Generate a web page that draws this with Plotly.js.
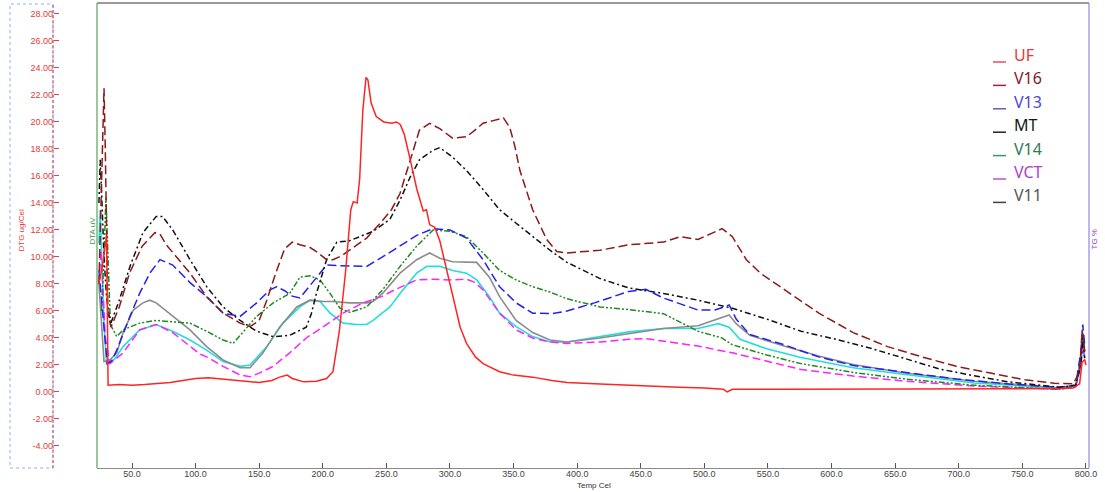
<!DOCTYPE html>
<html>
<head>
<meta charset="utf-8">
<script src="https://cdn.plot.ly/plotly-3.0.1.min.js"></script>
<style>html,body{margin:0;padding:0;background:#fff;}#chart{width:1105px;height:492px;}</style>
</head>
<body>
<div id="chart"></div>
<script>
// ---- data (temperature in Cel, DTG in ug/Cel) ----
const seriesNames = ["UF", "V16", "V13", "MT", "V14", "VCT", "V11"];

const ufT = [24,27,30,31.2,40,50,60,70,80,90,100,110,120,130,140,150,160,166,172,176,185,195,203,208,213,218,222,224,227,229,231.5,234,235.5,238,242,248,254,258,261,264,268.5,274,279,281.5,284,288,292,300,308,313,320,326,339,350,365,380,392,418,450,480,500,515,518,522,560,600,650,700,750,780,790,795,797,799,800];
const ufV = [8.0,9.5,11.6,0.5,0.55,0.5,0.55,0.6,0.7,0.85,1.0,1.05,0.95,0.85,0.75,0.7,0.85,1.1,1.25,1.0,0.75,0.8,1.0,1.5,4.5,9.0,13.5,14.1,14.0,15.8,20.9,23.3,23.1,21.4,20.4,20.0,19.9,20.0,19.8,19.1,17.3,15.0,13.4,13.5,12.4,12.2,11.2,8.1,4.8,3.6,2.6,2.1,1.5,1.25,1.1,0.85,0.7,0.6,0.45,0.35,0.3,0.2,0.0,0.2,0.2,0.2,0.2,0.2,0.2,0.25,0.3,0.6,2.2,2.4,2.0];

const v16T = [24,26,28,29,30,31,33.5,40,48,58,68,72,77,86,95.6,108.7,121.6,135,142.8,150,156,163,170,176,182,190,195,203,208,215,221,234.5,247,254,260.7,268.6,276,284,292,302,313,321,326,334,342,347,351,355,365,376,384,392,418,440,468,481,495,507,514,522,533,544,563,590,617,644,671,698,725,752,775,790,795,797,799];
const v16V = [8,15,22.5,18,10,6,4.8,6.3,8.8,10.8,11.8,11.7,10.9,9.9,8.8,7.06,5.84,5.1,4.84,5.3,6.8,8.8,10.6,11.1,10.9,10.7,10.4,9.8,9.8,10.1,10.5,11.4,12.7,13.5,14.7,17.2,19.4,19.9,19.5,18.8,18.9,19.5,19.9,20.1,20.3,19.6,18.2,16.4,13.5,11.3,10.4,10.3,10.5,10.9,11.1,11.5,11.3,11.8,12.1,11.5,9.8,8.8,7.6,5.84,4.4,3.36,2.6,1.9,1.4,0.9,0.65,0.6,1.5,4.6,3.0];

const v13T = [24,26,28,30.5,34,38,48.4,56,64,72,82,95.6,108.7,121.6,135,148,158.5,164,170,176,182,195,203,215,226.6,234.5,247,260.7,273.8,286.7,300,313,326,339,352,365,380,392,413.6,440.7,454,467.8,495,508.4,519.5,525,535.7,562.6,589.8,617,658,698,739,779,792,796,797.5,799];
const v13V = [9.0,7.0,4.5,2.1,2.3,3.1,5.6,7.3,8.8,9.8,9.4,8.1,7.06,5.84,5.6,6.6,7.56,7.8,7.5,7.1,6.96,8.5,9.4,9.35,9.3,9.3,10.0,10.8,11.6,12.1,12.0,11.4,9.8,7.8,6.6,5.84,5.8,6.0,6.6,7.45,7.6,6.96,6.07,6.07,6.44,5.4,4.26,3.5,2.6,1.96,1.48,0.96,0.6,0.35,0.5,3.0,5.0,3.5];

const mtT = [24,25,26,28,30,33,40,48.4,58.6,69,74,82,95.6,108.7,121.6,135,148,161,174,187,191,195,203,211,221,226.6,239.5,252.8,260.7,268.6,276,286.7,292,302,313,326,339,352,365,378.6,392,404.6,418,440.7,467.8,495,522,549,576,603.5,630,658,685,712,739,779,792,796,797.5,799];
const mtV = [14,17.2,15,10,7,5.0,6.8,9.3,11.8,13.0,13.0,12.0,9.8,7.8,6.3,5.3,4.5,4.1,4.2,4.8,5.8,7.3,9.8,11.1,11.2,11.4,11.9,12.8,14.2,15.9,17.2,17.9,18.1,17.4,16.4,15.0,13.5,12.5,11.5,10.5,9.6,9.0,8.4,7.7,7.3,6.8,6.2,5.4,4.5,3.9,3.26,2.47,1.7,1.2,0.75,0.35,0.5,2.0,4.0,2.5];

const v14T = [26,28,29.5,31,33,38,43,56,69,82,95.6,108.7,121.6,129.5,137,148,161,174,182,190,197.8,205.7,213.5,221,234.5,247,260.7,273.8,286.7,300,313,326,339,352,365,378.6,392,418,440.7,467.8,495,513.8,522,549,576,617,658,712,779,792,796,797.5,799];
const v14V = [6,10,14.4,10,5,4.1,4.6,5.1,5.3,5.2,5.1,4.5,3.85,3.6,4.4,5.6,6.6,7.3,8.5,8.6,8.3,7.3,6.2,5.9,6.3,7.56,9.3,10.8,12.0,11.9,11.5,10.3,9.0,8.3,7.8,7.4,6.9,6.3,6.1,5.8,4.5,4.0,3.5,2.74,2.1,1.45,0.96,0.5,0.2,0.4,2.5,4.2,3.0];

const vctT = [24,25.5,27,29,32.7,43,56,69,82,95.6,103.5,108.7,121.6,135,142.8,150,161,174,187,200,208,216,231.6,247,255,262,273.8,286.7,300,313,320,326,339,352,365,378.6,392,418,440.7,454,495,522,549,576,617,658,712,779,792,796,797.5,799];
const vctV = [8,10.5,8,4,2.1,2.9,4.6,5.0,4.4,3.36,2.8,2.6,1.9,1.26,1.13,1.4,1.9,2.9,4.0,4.8,5.3,5.84,6.6,7.1,7.5,7.8,8.3,8.35,8.3,8.35,8.1,7.56,5.84,4.6,4.0,3.7,3.6,3.7,3.9,3.95,3.4,2.9,2.3,1.67,1.18,0.8,0.44,0.2,0.4,2.0,3.5,2.5];

const v11T = [24,26,28,33,38,43,51,58.6,64,69,82,95.6,108.7,121.6,135,142.8,153,166,179.5,190,200,208,221,234.5,239.5,247,260.7,273.8,284,292,302,313,321,331,339,352,365,378.6,392,418,440.7,467.8,495,513.8,519.5,525,535.7,562.6,589.8,617,658,712,779,792,796,797.5,799];
const v11V = [8,5,2.25,2.4,2.9,4.4,6.07,6.6,6.8,6.6,5.6,4.6,3.36,2.37,1.8,1.8,2.9,4.8,6.3,6.8,6.7,6.7,6.6,6.6,6.7,7.3,8.8,9.8,10.3,9.9,9.65,9.65,9.6,8.5,7.06,5.3,4.4,3.85,3.7,4.0,4.3,4.7,4.9,5.55,5.7,5.06,4.2,3.4,2.67,2.04,1.4,0.8,0.3,0.5,2.5,4.3,3.0];

// unlabeled cyan curve
const cyanT = [24,25,26.5,28,30,36,43,56,69,82,95.6,108.7,121.6,135,142.8,156,168.7,182,190,197.8,205.7,216,226.6,234.5,239.5,247,252.8,260.7,273.8,281.7,292,302,313,321,331,339,352,365,378.6,392,418,440.7,467.8,495,511,519.5,528,549,576,617,658,712,779,792,796,797.5,799];
const cyanV = [11,13.5,9,5,2.1,2.4,3.36,4.6,5.0,4.5,3.85,3.1,2.25,1.9,2.0,3.36,5.1,6.3,6.8,6.7,5.84,5.1,5.0,5.0,5.3,5.84,6.3,7.3,8.8,9.3,9.3,9.0,8.8,8.3,7.06,5.84,4.84,4.1,3.7,3.7,4.1,4.45,4.7,4.7,5.06,4.8,3.9,3.2,2.55,1.8,1.3,0.67,0.3,0.5,2.0,3.5,2.5];

const xTickVals = [50,100,150,200,250,300,350,400,450,500,550,600,650,700,750,800];
const yTickVals = [-4,-2,0,2,4,6,8,10,12,14,16,18,20,22,24,26,28];
const yTickText = ["-4.00","-2.00","0.00","2.00","4.00","6.00","8.00","10.00","12.00","14.00","16.00","18.00","20.00","22.00","24.00","26.00","28.00"];

// ---- styles ----
const W = 1105, H = 492;
const px = v => v / W, py = v => 1 - v / H;

function tr(x, y, color, dash, width) {
  return {x: x, y: y, type: 'scatter', mode: 'lines', showlegend: false, hoverinfo: 'skip',
          line: {color: color, dash: dash, width: width || 1.5}};
}

const traces = [
  tr(cyanT, cyanV, '#22dede', 'solid', 1.6),
  tr(v11T, v11V, '#8c8c8c', 'solid', 1.6),
  tr(vctT, vctV, '#ff22ff', '8px,4px', 1.5),
  tr(v14T, v14V, '#1f8a1f', '6px,2px,2px,2px,2px,2px', 1.5),
  tr(v13T, v13V, '#2222ee', '9px,4px', 1.5),
  tr(mtT, mtV, '#111111', '6px,3px,2px,3px', 1.5),
  tr(v16T, v16V, '#8b1a1a', '9px,4px', 1.5),
  tr(ufT, ufV, '#ff2424', 'solid', 1.5)
];

const legendText = ['#e83a3a', '#8a1a2a', '#4a4ad0', '#151515', '#2a7a55', '#b040d0', '#555555'];
const legendLine = ['#e05060', '#a02040', '#6060c0', '#222222', '#409070', '#c050c0', '#404040'];

const annotations = [];
const shapes = [];
seriesNames.forEach((n, i) => {
  const yc = 55 + i * 23.4;
  annotations.push({xref: 'paper', yref: 'paper', x: px(1012), y: py(yc), xanchor: 'left', yanchor: 'middle',
    text: n, showarrow: false, font: {family: 'Noto Sans, Open Sans, sans-serif', size: 16, color: legendText[i]}});
  shapes.push({type: 'line', xref: 'paper', yref: 'paper', x0: px(993), x1: px(1006), y0: py(yc + 7), y1: py(yc + 7),
    line: {color: legendLine[i], width: 1.5}});
});

annotations.push({xref: 'paper', yref: 'paper', x: px(14), y: py(231), text: 'DTG ug/Cel', textangle: -90,
  showarrow: false, font: {family: 'Liberation Sans, Arial, sans-serif', size: 8, color: '#e03c3c'}});
annotations.push({xref: 'paper', yref: 'paper', x: px(85), y: py(231), text: 'DTA uV', textangle: -90,
  showarrow: false, font: {family: 'Liberation Sans, Arial, sans-serif', size: 8, color: '#3a9a3a'}});
annotations.push({xref: 'paper', yref: 'paper', x: px(1100), y: py(240), text: 'TG %', textangle: -90,
  showarrow: false, font: {family: 'Liberation Sans, Arial, sans-serif', size: 8, color: '#9040d0'}});
annotations.push({xref: 'paper', yref: 'paper', x: px(594), y: py(492), xanchor: 'center', yanchor: 'bottom',
  text: 'Temp Cel', showarrow: false, font: {family: 'Liberation Sans, Arial, sans-serif', size: 8, color: '#333333'}});

// frame / axes decorations
shapes.push({type: 'rect', xref: 'paper', yref: 'paper', x0: px(10), x1: px(53), y0: py(468), y1: py(4),
  line: {color: '#8ab4e8', width: 1, dash: 'dot'}});
shapes.push({type: 'line', xref: 'paper', yref: 'paper', x0: px(53), x1: px(53), y0: py(468), y1: py(4),
  line: {color: '#d04060', width: 1, dash: '3px,2px'}});
shapes.push({type: 'line', xref: 'paper', yref: 'paper', x0: px(97), x1: px(97), y0: py(468), y1: py(3),
  line: {color: '#5aa05a', width: 1.2}});
shapes.push({type: 'line', xref: 'paper', yref: 'paper', x0: px(97), x1: px(1089), y0: py(3), y1: py(3),
  line: {color: '#999999', width: 2}});
shapes.push({type: 'line', xref: 'paper', yref: 'paper', x0: px(1089), x1: px(1089), y0: py(468), y1: py(3),
  line: {color: '#8a8ae0', width: 1.2}});

const layout = {
  width: W, height: H,
  margin: {l: 0, r: 0, t: 0, b: 0},
  paper_bgcolor: '#ffffff', plot_bgcolor: '#ffffff',
  showlegend: false,
  xaxis: {
    domain: [px(97), px(1089)], range: [22.48, 802.4], anchor: 'y',
    tickmode: 'array', tickvals: xTickVals, tickformat: '.1f',
    ticks: 'inside', ticklen: 5, tickcolor: '#555555', tickwidth: 1,
    ticklabelstandoff: -3,
    showline: true, linecolor: '#8a8a8a', linewidth: 1.2,
    showgrid: false, zeroline: false, automargin: false,
    tickfont: {family: 'Liberation Sans, Arial, sans-serif', size: 9, color: '#444444'}
  },
  yaxis: {
    domain: [1 - 468 / H, 1 - 3 / H], range: [-5.63, 28.81], anchor: 'free', position: px(53), side: 'left',
    tickmode: 'array', tickvals: yTickVals, ticktext: yTickText,
    ticks: 'inside', ticklen: 5, tickcolor: '#e04050', tickwidth: 1,
    showline: false, showgrid: false, zeroline: false, automargin: false,
    tickfont: {family: 'Liberation Sans, Arial, sans-serif', size: 9, color: '#e03c3c'}
  },
  annotations: annotations,
  shapes: shapes
};

Plotly.newPlot('chart', traces, layout, {displayModeBar: false, staticPlot: true});
</script>
</body>
</html>
